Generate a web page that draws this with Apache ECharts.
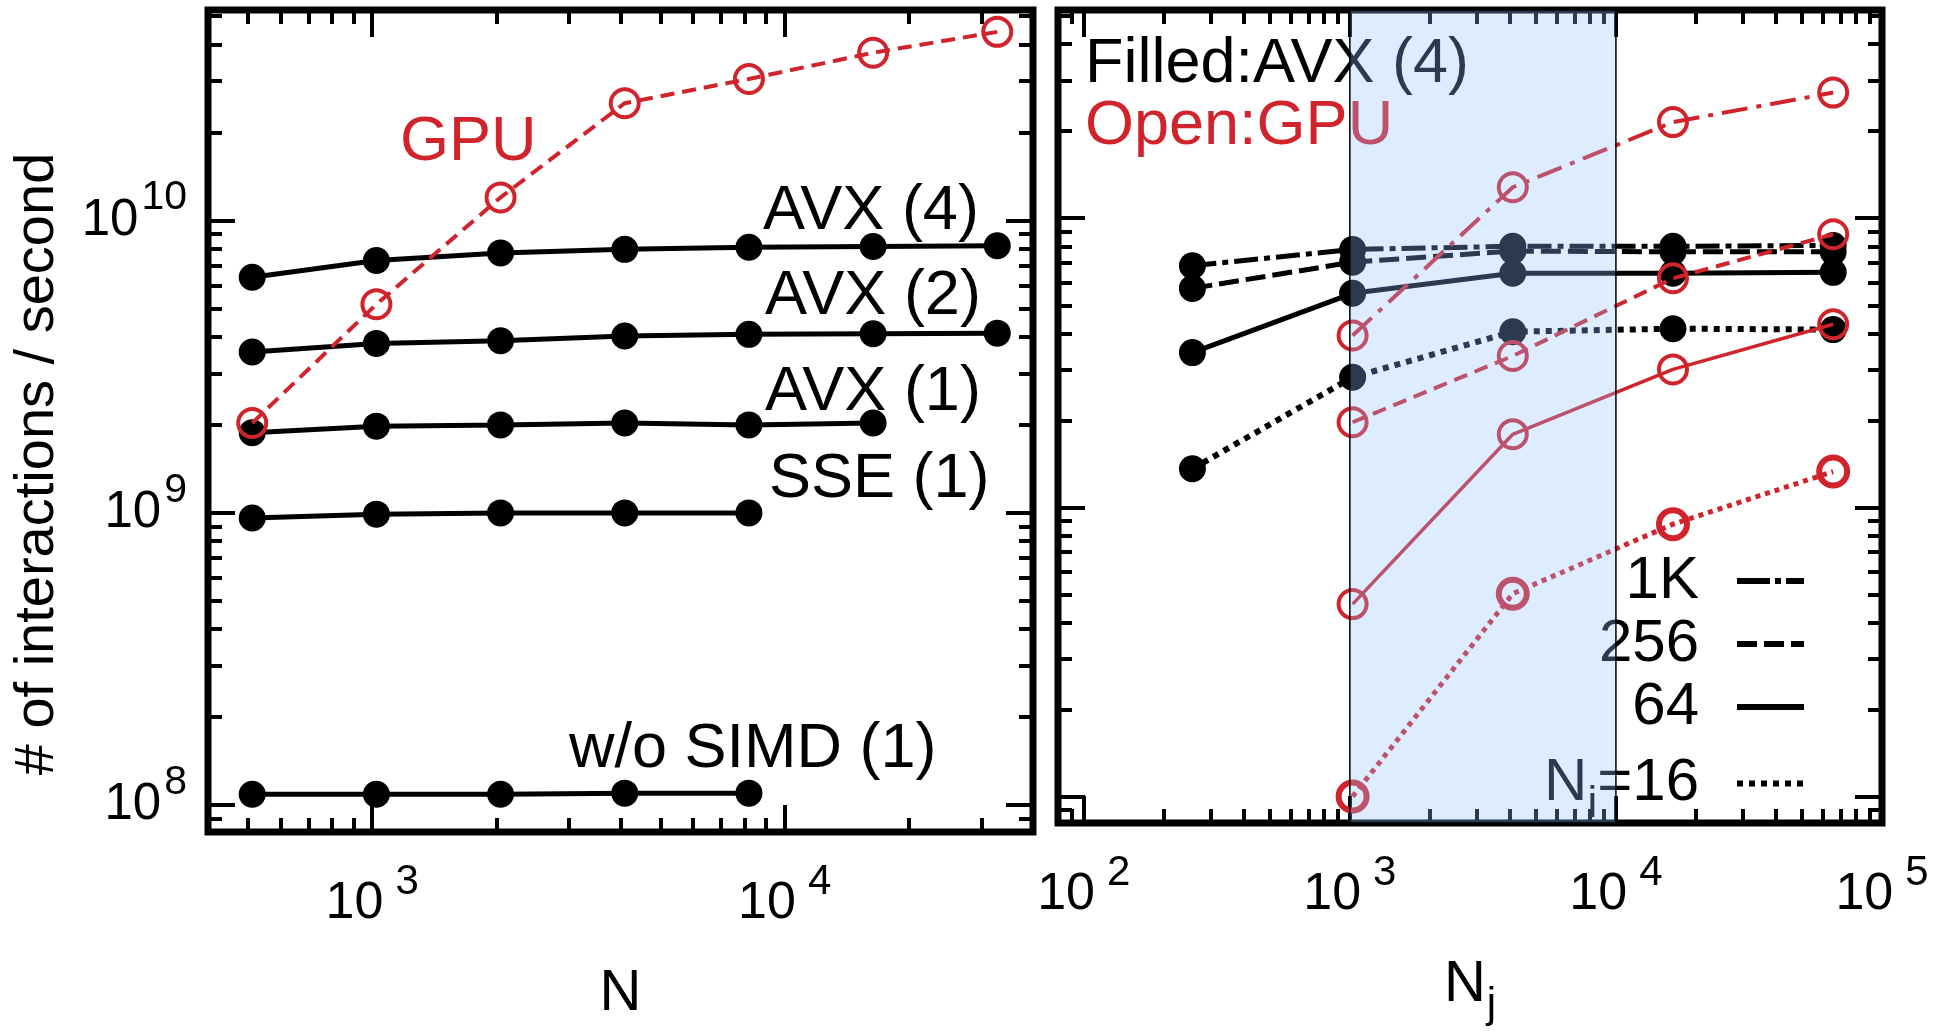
<!DOCTYPE html>
<html><head><meta charset="utf-8">
<script src="https://cdn.jsdelivr.net/npm/echarts@6/dist/echarts.min.js"></script>
<style>html,body{margin:0;padding:0;background:#fff}#c{width:1945px;height:1031px}</style>
</head><body><div id="c"></div>
<script>
// ---------- data ----------
const nValues   = [512, 1024, 2048, 4096, 8192, 16384, 32768];
const avx4      = [6.4e9, 7.3e9, 7.75e9, 7.97e9, 8.1e9, 8.15e9, 8.2e9];
const avx2      = [3.55e9, 3.8e9, 3.88e9, 4.03e9, 4.08e9, 4.1e9, 4.12e9];
const avx1      = [1.88e9, 1.98e9, 2.0e9, 2.03e9, 2.0e9, 2.03e9];
const sse1      = [0.96e9, 0.99e9, 1.0e9, 1.0e9, 1.0e9];
const noSimd    = [1.09e8, 1.09e8, 1.09e8, 1.10e8, 1.10e8];
const gpuN      = [2.03e9, 5.17e9, 1.2e10, 2.52e10, 3.05e10, 3.75e10, 4.42e10];

const njValues  = [256, 1024, 4096, 16384, 65536];
const cpu1K     = [6.85e9, 7.8e9, 8.0e9, 8.0e9, 8.05e9];
const cpu256    = [5.72e9, 7.05e9, 7.7e9, 7.65e9, 7.65e9];
const cpu64     = [3.43e9, 5.5e9, 6.45e9, 6.45e9, 6.5e9];
const cpu16     = [1.36e9, 2.82e9, 4.05e9, 4.15e9, 4.12e9];
const gpu1K     = [null, 3.93e9, 1.28e10, 2.15e10, 2.72e10];
const gpu256    = [null, 1.97e9, 3.34e9, 6.2e9, 8.8e9];
const gpu64     = [null, 4.63e8, 1.79e9, 3.0e9, 4.3e9];
const gpu16     = [null, 1.0e8, 5.03e8, 8.75e8, 1.33e9];

const highlightRange = [1000, 10000];

const leftXMajor  = [1000, 10000];
const leftXMinor  = [400,500,600,700,800,900,2000,3000,4000,5000,6000,7000,8000,9000,20000,30000,40000];
const rightXMajor = [100, 1000, 10000, 100000];
const rightXMinor = [80,90,200,300,400,500,600,700,800,900,2000,3000,4000,5000,6000,7000,8000,9000,
                     20000,30000,40000,50000,60000,70000,80000,90000];
const yMajor      = [1e8, 1e9, 1e10];
const yMinor      = [9e7,2e8,3e8,4e8,5e8,6e8,7e8,8e8,9e8,2e9,3e9,4e9,5e9,6e9,7e9,8e9,9e9,2e10,3e10,4e10,5e10];

const leftXRange  = [400, 40000];
const rightXRange = [80, 100000];
const yRange      = [8.1e7, 5.25e10];

// ---------- styling ----------
const RED = '#d0232b';
const NARROW = '"Liberation Sans Narrow", "Arial Narrow", "Liberation Sans", sans-serif';
const SANS = '"Liberation Sans", Arial, sans-serif';
const tickStyle = {color: '#000', width: 4};
const MAJ = 27, MIN = 14;

function supFmt(v) { return '{b|10}{s|' + Math.round(Math.log10(v)) + '}'; }

function axis(pos, grid, range, ticks, len, extra) {
  return Object.assign({
    type: 'log', logBase: 10, gridIndex: grid, position: pos, min: range[0], max: range[1],
    axisLine: {show: false, onZero: false},
    splitLine: {show: false}, minorTick: {show: false}, minorSplitLine: {show: false},
    axisTick: {show: true, inside: true, length: len, lineStyle: tickStyle, customValues: ticks},
    axisLabel: {show: false}, silent: true, axisPointer: {show: false}
  }, extra || {});
}

const xLabel = {
  show: true, margin: 46, formatter: supFmt,
  rich: {
    b: {fontSize: 52, fontFamily: NARROW, color: '#000', lineHeight: 52},
    s: {fontSize: 42, fontFamily: NARROW, color: '#000', lineHeight: 20, padding: [0, 0, 44, 12]}
  }
};
const yLabel = {
  show: true, margin: 21, formatter: supFmt,
  rich: {
    b: {fontSize: 51, fontFamily: NARROW, color: '#000', lineHeight: 51},
    s: {fontSize: 41, fontFamily: NARROW, color: '#000', lineHeight: 20, padding: [0, 0, 45, 3]}
  }
};

const xAxes = [
  axis('bottom', 0, leftXRange, leftXMajor, MAJ, {
    axisLabel: Object.assign({customValues: leftXMajor}, xLabel),
    name: 'N', nameLocation: 'middle', nameGap: 133,
    nameTextStyle: {fontSize: 58, fontFamily: NARROW, color: '#000'}
  }),
  axis('bottom', 0, leftXRange, leftXMinor, MIN),
  axis('top', 0, leftXRange, leftXMajor, MAJ),
  axis('top', 0, leftXRange, leftXMinor, MIN),
  axis('bottom', 1, rightXRange, rightXMajor, MAJ, {
    axisLabel: Object.assign({customValues: rightXMajor}, xLabel),
    name: '{n|N}{j|j}', nameLocation: 'middle', nameGap: 133,
    nameTextStyle: {fontSize: 58, fontFamily: NARROW, color: '#000',
      rich: {n: {fontSize: 58, fontFamily: NARROW, color: '#000'},
             j: {fontSize: 42, fontFamily: NARROW, color: '#000', lineHeight: 20, padding: [40, 0, 0, 1]}}}
  }),
  axis('bottom', 1, rightXRange, rightXMinor, MIN),
  axis('top', 1, rightXRange, rightXMajor, MAJ),
  axis('top', 1, rightXRange, rightXMinor, MIN)
];

const yAxes = [
  axis('left', 0, yRange, yMajor, MAJ, {
    axisLabel: Object.assign({customValues: yMajor}, yLabel),
    name: '# of interactions / second', nameLocation: 'middle', nameGap: 142,
    nameTextStyle: {fontSize: 56, fontFamily: SANS, color: '#000', padding: [0, 86, 0, 0]}
  }),
  axis('left', 0, yRange, yMinor, MIN),
  axis('right', 0, yRange, yMajor, MAJ),
  axis('right', 0, yRange, yMinor, MIN),
  axis('left', 1, yRange, yMajor, MAJ),
  axis('left', 1, yRange, yMinor, MIN),
  axis('right', 1, yRange, yMajor, MAJ),
  axis('right', 1, yRange, yMinor, MIN)
];

function pairs(xs, ys) {
  const out = [];
  ys.forEach((y, i) => { if (y != null) out.push([xs[i], y]); });
  return out;
}

function cpuSeries(name, grid, xs, ys, dash, w) {
  return {
    type: 'line', name: name, xAxisIndex: grid * 4, yAxisIndex: grid * 4,
    data: pairs(xs, ys), symbol: 'circle', symbolSize: 27, z: 2,
    itemStyle: {color: '#000'}, lineStyle: {color: '#000', width: w || 5, type: dash || 'solid'},
    emphasis: {disabled: true}, silent: true
  };
}
function gpuSeries(name, grid, xs, ys, dash, w, bw) {
  return {
    type: 'line', name: name, xAxisIndex: grid * 4, yAxisIndex: grid * 4,
    data: pairs(xs, ys), symbol: 'circle', symbolSize: 28, z: 3,
    itemStyle: {color: 'rgba(0,0,0,0)', borderColor: RED, borderWidth: bw || 4},
    lineStyle: {color: RED, width: w || 4, type: dash || 'solid'},
    emphasis: {disabled: true}, silent: true
  };
}
function legendKey(name, dash) {
  return {
    type: 'line', name: name, xAxisIndex: 4, yAxisIndex: 4, data: [], symbol: 'none', symbolSize: 0,
    itemStyle: {color: '#000', opacity: 0}, lineStyle: {color: '#000', width: 6, type: dash}
  };
}

const series = [
  cpuSeries('AVX (4)', 0, nValues, avx4),
  cpuSeries('AVX (2)', 0, nValues, avx2),
  cpuSeries('AVX (1)', 0, nValues, avx1),
  cpuSeries('SSE (1)', 0, nValues, sse1),
  cpuSeries('w/o SIMD (1)', 0, nValues, noSimd),
  gpuSeries('GPU', 0, nValues, gpuN, [14, 8], 4),

  cpuSeries('AVX 1K', 1, njValues, cpu1K, [24, 6, 6, 6]),
  cpuSeries('AVX 256', 1, njValues, cpu256, [20, 7]),
  cpuSeries('AVX 64', 1, njValues, cpu64, 'solid'),
  cpuSeries('AVX 16', 1, njValues, cpu16, [6, 6], 6),
  gpuSeries('GPU 1K', 1, njValues, gpu1K, [26, 9, 5, 9], 4),
  gpuSeries('GPU 256', 1, njValues, gpu256, [14, 8], 4),
  gpuSeries('GPU 64', 1, njValues, gpu64, 'solid', 3.5),
  gpuSeries('GPU 16', 1, njValues, gpu16, [5, 5], 5, 6),

  legendKey('1K', [33, 5, 6, 5]),
  legendKey('256', [20, 7]),
  legendKey('64', 'solid'),
  legendKey('Ni=16', [6, 6]),

  {
    type: 'custom', name: 'highlight', xAxisIndex: 4, yAxisIndex: 4, z: 20, silent: true, clip: false,
    data: [[highlightRange[0], highlightRange[1]]],
    encode: {x: 0, y: 1},
    renderItem: function (params, api) {
      const p0 = api.coord([api.value(0), yRange[1]]);
      const p1 = api.coord([api.value(1), yRange[0]]);
      return {
        type: 'rect',
        shape: {x: p0[0], y: p0[1], width: p1[0] - p0[0], height: p1[1] - p0[1]},
        style: {fill: 'rgba(141,193,255,0.3)', stroke: '#000', lineWidth: 1.5}
      };
    }
  }
];

function txt(x, y, s, color) {
  return {type: 'text', x: x, y: y, z: 1, silent: true,
    style: {text: s, fill: color, fontSize: 63, fontFamily: SANS, verticalAlign: 'middle', align: 'left'}};
}

const option = {
  animation: false,
  backgroundColor: '#fff',
  grid: [
    {left: 208, top: 10, width: 825, height: 822, show: true, borderColor: '#000', borderWidth: 7, backgroundColor: 'rgba(0,0,0,0)', containLabel: false},
    {left: 1058, top: 10, width: 824, height: 822, show: true, borderColor: '#000', borderWidth: 7, backgroundColor: 'rgba(0,0,0,0)', containLabel: false}
  ],
  xAxis: xAxes,
  yAxis: yAxes,
  legend: {
    orient: 'vertical', right: 138, top: 551, padding: 0, itemWidth: 67, itemHeight: 20, itemGap: 3,
    align: 'right', selectedMode: false, z: 4,
    data: ['1K', '256', '64', 'Ni=16'],
    formatter: function (name) { return name === 'Ni=16' ? '{n|N}{i|i}{n|=16}' : name; },
    textStyle: {fontSize: 60, fontFamily: SANS, color: '#000', lineHeight: 60, padding: [0, 33, 0, 0],
      rich: {n: {fontSize: 60, fontFamily: SANS, color: '#000', lineHeight: 60},
             i: {fontSize: 44, fontFamily: SANS, color: '#000', lineHeight: 20, padding: [43, 0, 0, 0]}}},
    itemStyle: {color: 'rgba(0,0,0,0)', borderWidth: 0, opacity: 0},
    lineStyle: {width: 6, opacity: 1}
  },
  graphic: [
    txt(400, 143, 'GPU', RED),
    txt(763, 212, 'AVX (4)', '#000'),
    txt(765, 297, 'AVX (2)', '#000'),
    txt(765, 393, 'AVX (1)', '#000'),
    txt(769, 480, 'SSE (1)', '#000'),
    txt(569, 750, 'w/o SIMD (1)', '#000'),
    txt(1085, 65, 'Filled:AVX (4)', '#000'),
    txt(1085, 127, 'Open:GPU', RED)
  ],
  series: series
};

const chart = echarts.init(document.getElementById('c'), null, {renderer: 'canvas'});
chart.setOption(option);
</script>
</body></html>
